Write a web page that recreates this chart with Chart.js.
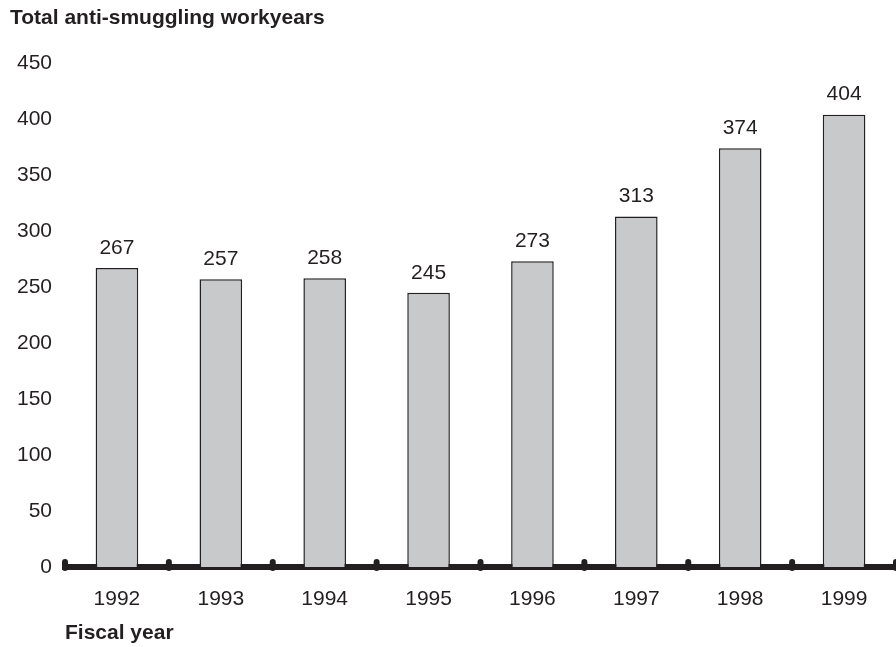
<!DOCTYPE html>
<html>
<head>
<meta charset="utf-8">
<script src="https://cdn.jsdelivr.net/npm/chart.js@4/dist/chart.umd.min.js"></script>
<style>
  html, body { margin: 0; padding: 0; background: #fff; }
  #wrap { width: 896px; height: 647px; }
</style>
</head>
<body>
<div id="wrap"><canvas id="workChart"></canvas></div>
<script>
// datos del grafico
const years = ['1992', '1993', '1994', '1995', '1996', '1997', '1998', '1999'];
const workyears = [267, 257, 258, 245, 273, 313, 374, 404];
const yTicks = [0, 50, 100, 150, 200, 250, 300, 350, 400, 450];

const INK = '#231f20';
const FONT = '"Liberation Sans", Arial, sans-serif';

// etiquetas de valor sobre cada barra
const valueLabels = {
    id: 'valueLabels',
    afterDatasetsDraw(chart) {
        const ctx = chart.ctx;
        const meta = chart.getDatasetMeta(0);
        ctx.save();
        ctx.font = '21px ' + FONT;
        ctx.fillStyle = INK;
        ctx.textAlign = 'center';
        ctx.textBaseline = 'middle';
        meta.data.forEach((bar, i) => {
            ctx.fillText(String(workyears[i]), bar.x, bar.y - 20);
        });
        ctx.restore();
    }
};

// marcas redondeadas entre categorias sobre el eje
const dividers = {
    id: 'dividers',
    afterDraw(chart) {
        const x = chart.scales.x;
        const ctx = chart.ctx;
        const yAxis = chart.chartArea.bottom;
        const pts = [x.left];
        for (let i = 1; i < years.length; i++) {
            pts.push((x.getPixelForValue(i - 1) + x.getPixelForValue(i)) / 2);
        }
        pts.push(x.right);
        ctx.save();
        ctx.strokeStyle = INK;
        ctx.lineWidth = 6;
        ctx.lineCap = 'round';
        pts.forEach(px => {
            ctx.beginPath();
            ctx.moveTo(px, yAxis - 5);
            ctx.lineTo(px, yAxis + 1);
            ctx.stroke();
        });
        ctx.restore();
    }
};

new Chart(document.getElementById('workChart'), {
    type: 'bar',
    data: {
        labels: years,
        datasets: [{
            data: workyears,
            backgroundColor: '#c8c9cb',
            borderColor: INK,
            borderWidth: 1.5,
            borderSkipped: 'bottom',
            categoryPercentage: 1,
            barPercentage: 0.41
        }]
    },
    options: {
        responsive: true,
        maintainAspectRatio: false,
        animation: false,
        layout: { padding: { left: 10, right: 0, top: 0, bottom: 0 } },
        plugins: {
            legend: { display: false },
            tooltip: { enabled: false },
            title: {
                display: true,
                text: 'Total anti-smuggling workyears',
                align: 'start',
                color: INK,
                font: { family: FONT, size: 21, weight: 'bold' },
                padding: { top: 6, bottom: 32 }
            }
        },
        scales: {
            x: {
                grid: { display: false, drawTicks: false },
                border: { display: true, color: INK, width: 6 },
                ticks: {
                    color: INK,
                    padding: 20,
                    font: { family: FONT, size: 21 }
                },
                title: {
                    display: true,
                    text: 'Fiscal year',
                    align: 'start',
                    color: INK,
                    font: { family: FONT, size: 21, weight: 'bold' },
                    padding: { top: 0, bottom: 1 }
                },
                afterFit(scale) { scale.height = 80; }
            },
            y: {
                min: 0,
                max: 450,
                grid: { display: false, drawTicks: false },
                border: { display: false },
                afterBuildTicks(scale) { scale.ticks = yTicks.map(v => ({ value: v })); },
                ticks: {
                    color: INK,
                    padding: 13,
                    font: { family: FONT, size: 21 }
                },
                afterFit(scale) { scale.width = 55; }
            }
        }
    },
    plugins: [valueLabels, dividers]
});
</script>
</body>
</html>
